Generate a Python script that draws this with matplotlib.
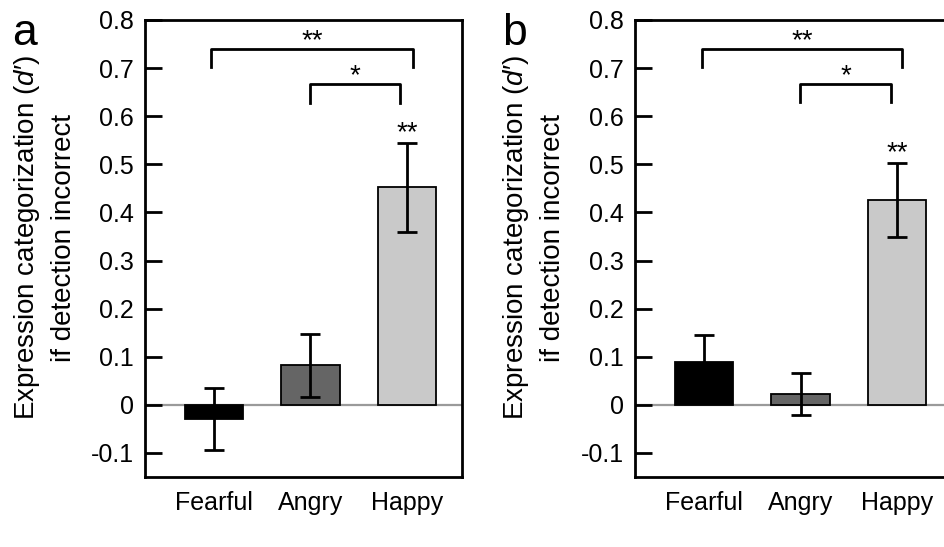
import matplotlib
matplotlib.use("Agg")
import matplotlib.pyplot as plt

plt.rcParams['font.family'] = ['Liberation Sans', 'DejaVu Sans']
plt.rcParams['mathtext.fontset'] = 'custom'
plt.rcParams['mathtext.it'] = 'Liberation Sans:italic'
plt.rcParams['mathtext.rm'] = 'Liberation Sans'

categories = ['Fearful', 'Angry', 'Happy']
colors = ['#000000', '#656565', '#c9c9c9']

# panel a
means_a = [-0.03, 0.082, 0.452]
errs_a = [0.064, 0.065, 0.092]
# panel b
means_b = [0.089, 0.023, 0.426]
errs_b = [0.057, 0.044, 0.077]

# significance: (x1, x2, bracket top, drop, label)
brackets_a = [(-0.03, 2.06, 0.74, 0.037, '**'), (1.0, 1.93, 0.667, 0.04, '*')]
brackets_b = [(-0.02, 2.05, 0.74, 0.037, '**'), (0.99, 1.94, 0.667, 0.037, '*')]
star_a = 0.551
star_b = 0.509

fig = plt.figure(figsize=(9.44, 5.47), dpi=100)
ax_a = fig.add_axes([0.1536, 0.128, 0.3355, 0.8355])
ax_b = fig.add_axes([0.6727, 0.128, 0.3355, 0.8355])


def draw_panel(ax, means, errs, brackets, star_y, letter, lab_x):
    x = list(range(len(categories)))
    ax.axhline(0, color='#9a9a9a', lw=1.6, zorder=0.5)
    ax.bar(x, means, width=0.61, color=colors, edgecolor='black',
           linewidth=1.3, zorder=2)
    ax.errorbar(x, means, yerr=errs, fmt='none', ecolor='black',
                elinewidth=2, capsize=7, capthick=2, zorder=3)
    for x1, x2, top, drop, label in brackets:
        ax.plot([x1, x1, x2, x2], [top - drop, top, top, top - drop],
                color='black', lw=2, zorder=3)
        ax.text((x1 + x2) / 2, top + 0.002, label, ha='center', va='baseline',
                fontsize=20)
    ax.text(2, star_y, '**', ha='center', va='baseline', fontsize=20)

    ax.set_xlim(-0.715, 2.567)
    ax.set_ylim(-0.15, 0.8)
    ax.set_yticks([-0.1, 0, 0.1, 0.2, 0.3, 0.4, 0.5, 0.6, 0.7, 0.8])
    ax.set_yticklabels(['-0.1', '0', '0.1', '0.2', '0.3', '0.4', '0.5',
                        '0.6', '0.7', '0.8'])
    ax.set_xticks(x)
    ax.set_xticklabels(categories)
    ax.tick_params(axis='y', direction='in', length=12, width=2,
                   labelsize=18, pad=8)
    ax.tick_params(axis='x', length=0, labelsize=18, pad=10)
    for s in ax.spines.values():
        s.set_linewidth(2)
    ax.text(lab_x, 0.523, 'Expression categorization ($\\mathit{d}$\u2032)\nif detection incorrect',
            transform=ax.transAxes, rotation=90, ha='center', va='center',
            fontsize=20, linespacing=1.45)
    ax.text(-0.42, 1.015, letter, transform=ax.transAxes, ha='left', va='top',
            fontsize=32)


draw_panel(ax_a, means_a, errs_a, brackets_a, star_a, 'a', -0.316)
draw_panel(ax_b, means_b, errs_b, brackets_b, star_b, 'b', -0.322)

fig.savefig('out.png', dpi=100)
